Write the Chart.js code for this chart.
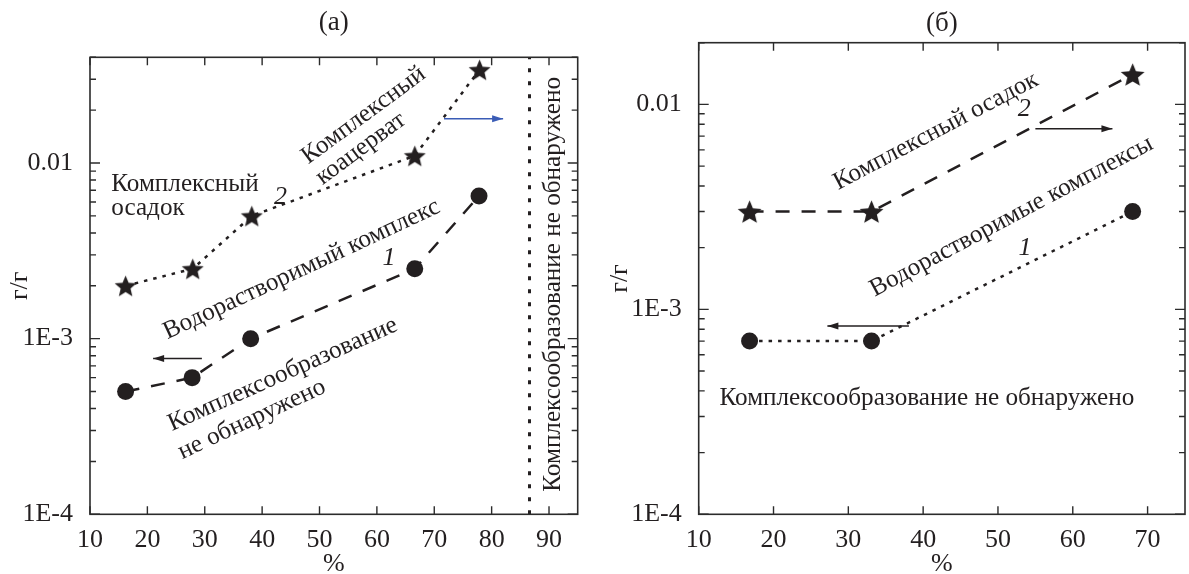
<!DOCTYPE html>
<html>
<head>
<meta charset="utf-8">
<script src="https://cdn.jsdelivr.net/npm/chart.js@4.4.0/dist/chart.umd.min.js"></script>
<style>
  html, body { margin: 0; padding: 0; background: #fff; overflow: hidden; width: 1189px; height: 574px; }
  #wrapA { position: absolute; left: 0; top: 0; width: 600px; height: 574px; }
  #wrapB { position: absolute; left: 600px; top: 0; width: 600px; height: 574px; }
</style>
</head>
<body>
<div id="wrapA"><canvas id="chartA"></canvas></div>
<div id="wrapB"><canvas id="chartB"></canvas></div>
<script>
// ---- panel (a) ----
const xA_stars = [16.2, 27.9, 38.2, 66.6, 77.9];
const yA_stars = [0.002, 0.0025, 0.005, 0.011, 0.034];
const xA_circles = [16.2, 27.8, 38.0, 66.6, 77.8];
const yA_circles = [0.0005, 0.0006, 0.001, 0.0025, 0.0065];
const xA_limit = 86.6;
const xTicksA = [10, 20, 30, 40, 50, 60, 70, 80, 90];
const arrowA1X = [71.7, 82.0], arrowA1Y = [0.0179, 0.0179];   // blue
const arrowA2X = [29.5, 21.0], arrowA2Y = [0.00077, 0.00077];

// ---- panel (b) ----
const xB_stars = [16.8, 33.1, 68.0];
const yB_stars = [0.003, 0.003, 0.014];
const xB_circles = [16.8, 33.1, 68.0];
const yB_circles = [0.0007, 0.0007, 0.003];
const xTicksB = [10, 20, 30, 40, 50, 60, 70];
const arrowB1X = [55.0, 65.3], arrowB1Y = [0.0076, 0.0076];
const arrowB2X = [38.1, 27.2], arrowB2Y = [0.00083, 0.00083];

const yTickValues = [1e-4, 1e-3, 1e-2];
const yTickLabels = ['1E-4', '1E-3', '0.01'];

const textsA = [
  { text: 'Комплексный', x: 13.7, y: 0.00757, angle: 0, align: 'left' },
  { text: 'осадок', x: 13.7, y: 0.00553, angle: 0, align: 'left' },
  { text: '2', x: 43.2, y: 0.00638, italic: true },
  { text: 'Комплексный', x: 57.7, y: 0.01868, angle: -36.5 },
  { text: 'коацерват', x: 57.2, y: 0.01208, angle: -36.5 },
  { text: 'Водорастворимый комплекс', x: 46.9, y: 0.00248, angle: -25 },
  { text: '1', x: 62.1, y: 0.00287, italic: true },
  { text: 'Комплексообразование', x: 43.6, y: 0.000626, angle: -24 },
  { text: 'не обнаружено', x: 38.2, y: 0.000347, angle: -25 },
  { text: 'Комплексообразование не обнаружено', x: 90.8, y: 0.00204, angle: -90 }
];
const textsB = [
  { text: 'Комплексный осадок', x: 41.7, y: 0.0074, angle: -27.7 },
  { text: '2', x: 53.5, y: 0.00945, italic: true },
  { text: 'Водорастворимые комплексы', x: 51.8, y: 0.00284, angle: -28 },
  { text: '1', x: 53.6, y: 0.00199, italic: true },
  { text: 'Комплексообразование не обнаружено', x: 40.5, y: 0.000368, angle: 0 }
];

const INK = '#231f20';
const SERIF = '"Liberation Serif", "Times New Roman", serif';
Chart.defaults.font.family = SERIF;
Chart.defaults.color = INK;

function pts(xs, ys) { return xs.map((x, i) => ({ x: x, y: ys[i] })); }

function makeStar(R) {
  const s = Math.ceil(2 * R + 2);
  const c = document.createElement('canvas');
  c.width = s; c.height = s;
  const g = c.getContext('2d');
  g.fillStyle = INK;
  g.beginPath();
  for (let i = 0; i < 10; i++) {
    const a = (-90 + i * 36) * Math.PI / 180;
    const r = i % 2 ? R * 0.45 : R;
    const px = s / 2 + r * Math.cos(a), py = s / 2 + 0.1 * R + r * Math.sin(a);
    if (i === 0) g.moveTo(px, py); else g.lineTo(px, py);
  }
  g.closePath();
  g.fill();
  return c;
}

function yTicksUpTo(max) {
  const out = [];
  for (let d = 1e-4; d < max * 1.0001; d *= 10) {
    for (let m = 1; m <= 9; m++) {
      const v = d * m;
      if (v <= max * 1.0001) out.push(v);
    }
  }
  return out;
}
function isMajor(v) {
  return yTickValues.some(t => Math.abs(Math.log10(v) - Math.log10(t)) < 1e-6);
}

const framePlugin = {
  id: 'frame',
  afterDatasetsDraw(chart) {
    const { ctx, chartArea: a, scales } = chart;
    ctx.save();
    ctx.strokeStyle = '#2b2b2b';
    ctx.lineWidth = 1.6;
    ctx.strokeRect(a.left, a.top, a.right - a.left, a.bottom - a.top);
    ctx.lineWidth = 1.4;
    ctx.beginPath();
    scales.x.ticks.forEach(t => {
      const px = scales.x.getPixelForValue(t.value);
      ctx.moveTo(px, a.bottom); ctx.lineTo(px, a.bottom - 8);
      ctx.moveTo(px, a.top); ctx.lineTo(px, a.top + 8);
    });
    scales.y.ticks.forEach(t => {
      const py = scales.y.getPixelForValue(t.value);
      const len = isMajor(t.value) ? 10 : 6;
      ctx.moveTo(a.left, py); ctx.lineTo(a.left + len, py);
      ctx.moveTo(a.right, py); ctx.lineTo(a.right - len, py);
    });
    ctx.stroke();

    // arrow heads
    chart.data.datasets.forEach((ds, i) => {
      if (!ds.arrow) return;
      const m = chart.getDatasetMeta(i).data;
      const p0 = m[0], p1 = m[1];
      const ang = Math.atan2(p1.y - p0.y, p1.x - p0.x);
      ctx.fillStyle = ds.borderColor;
      ctx.beginPath();
      ctx.moveTo(p1.x, p1.y);
      ctx.lineTo(p1.x - 11 * Math.cos(ang) + 3.5 * Math.sin(ang), p1.y - 11 * Math.sin(ang) - 3.5 * Math.cos(ang));
      ctx.lineTo(p1.x - 11 * Math.cos(ang) - 3.5 * Math.sin(ang), p1.y - 11 * Math.sin(ang) + 3.5 * Math.cos(ang));
      ctx.closePath();
      ctx.fill();
    });

    // annotations
    const texts = chart.options.plugins.frame.texts;
    texts.forEach(t => {
      const px = scales.x.getPixelForValue(t.x);
      const py = scales.y.getPixelForValue(t.y);
      ctx.save();
      ctx.translate(px, py);
      ctx.rotate((t.angle || 0) * Math.PI / 180);
      ctx.font = (t.italic ? 'italic 26px ' : '25.2px ') + SERIF;
      ctx.fillStyle = INK;
      ctx.textAlign = t.align || 'center';
      ctx.textBaseline = 'middle';
      ctx.fillText(t.text, 0, 0);
      ctx.restore();
    });
    ctx.restore();
  }
};

function buildChart(id, cfg) {
  const starImg = makeStar(cfg.starR);
  const datasets = [
    {
      data: pts(cfg.xs, cfg.ys), showLine: true, borderColor: INK, borderWidth: 2.5,
      borderDash: cfg.starDash, borderCapStyle: 'butt', pointStyle: starImg, pointRadius: cfg.starR,
      backgroundColor: INK
    },
    {
      data: pts(cfg.xc, cfg.yc), showLine: true, borderColor: INK, borderWidth: 2.5,
      borderDash: cfg.circleDash, borderCapStyle: 'butt', pointStyle: 'circle', pointRadius: 8.5,
      pointBorderWidth: 0, backgroundColor: INK, pointBackgroundColor: INK
    }
  ];
  cfg.arrows.forEach(a => datasets.push({
    data: pts(a.x, a.y), showLine: true, borderColor: a.color, borderWidth: 1.5,
    pointRadius: 0, arrow: true
  }));
  if (cfg.limit !== undefined) {
    datasets.push({
      data: pts([cfg.limit, cfg.limit], [1e-4, cfg.yMax]), showLine: true, borderColor: INK,
      borderWidth: 3, borderDash: [4, 9], borderCapStyle: 'butt', pointRadius: 0
    });
  }
  return new Chart(document.getElementById(id), {
    type: 'scatter',
    data: { datasets: datasets },
    plugins: [framePlugin],
    options: {
      responsive: true,
      maintainAspectRatio: false,
      animation: false,
      layout: { padding: { left: 0, top: 0, right: cfg.padRight, bottom: 0 } },
      plugins: {
        legend: { display: false },
        tooltip: { enabled: false },
        title: {
          display: true, text: cfg.title, fullSize: false, color: INK,
          font: { size: 27, weight: 'normal' }, padding: cfg.titlePad
        },
        frame: { texts: cfg.texts }
      },
      scales: {
        x: {
          type: 'linear', min: 10, max: cfg.xMax,
          grid: { display: false }, border: { display: false },
          afterBuildTicks: s => { s.ticks = cfg.xTicks.map(v => ({ value: v })); },
          afterFit: s => { s.height = 59.7; },
          ticks: { font: { size: 26 }, color: INK, padding: 2.5, autoSkip: false, maxRotation: 0 },
          title: { display: true, text: '%', font: { size: 26 }, color: INK, padding: { top: 0, bottom: -6 } }
        },
        y: {
          type: 'logarithmic', min: 1e-4, max: cfg.yMax,
          grid: { display: false }, border: { display: false },
          afterBuildTicks: s => { s.ticks = yTicksUpTo(cfg.yMax).map(v => ({ value: v, major: isMajor(v) })); },
          afterFit: s => { s.width = cfg.yWidth; },
          ticks: {
            font: { size: 26 }, color: INK, padding: 9, autoSkip: false,
            callback: v => {
              const i = yTickValues.findIndex(t => Math.abs(Math.log10(v) - Math.log10(t)) < 1e-6);
              return i >= 0 ? yTickLabels[i] : '';
            }
          },
          title: { display: true, text: 'г/г', font: { size: 26 }, color: INK, padding: { top: 5, bottom: 0 } }
        }
      }
    }
  });
}

buildChart('chartA', {
  title: '(a)', titlePad: { top: 7, bottom: 17.9 },
  xs: xA_stars, ys: yA_stars, xc: xA_circles, yc: yA_circles,
  starDash: [3.5, 6], circleDash: [14, 12], starR: 11.5,
  arrows: [{ x: arrowA1X, y: arrowA1Y, color: '#3a5cb6' }, { x: arrowA2X, y: arrowA2Y, color: INK }],
  limit: xA_limit, xMax: 95, yMax: 0.04, xTicks: xTicksA, yWidth: 90, padRight: 22.3,
  texts: textsA
});

buildChart('chartB', {
  title: '(б)', titlePad: { top: 8, bottom: 2.3 },
  xs: xB_stars, ys: yB_stars, xc: xB_circles, yc: yB_circles,
  starDash: [14, 12], circleDash: [3.5, 6], starR: 12.5,
  arrows: [{ x: arrowB1X, y: arrowB1Y, color: INK }, { x: arrowB2X, y: arrowB2Y, color: INK }],
  xMax: 75, yMax: 0.02, xTicks: xTicksB, yWidth: 98.7, padRight: 5,
  texts: textsB
});
</script>
</body>
</html>
